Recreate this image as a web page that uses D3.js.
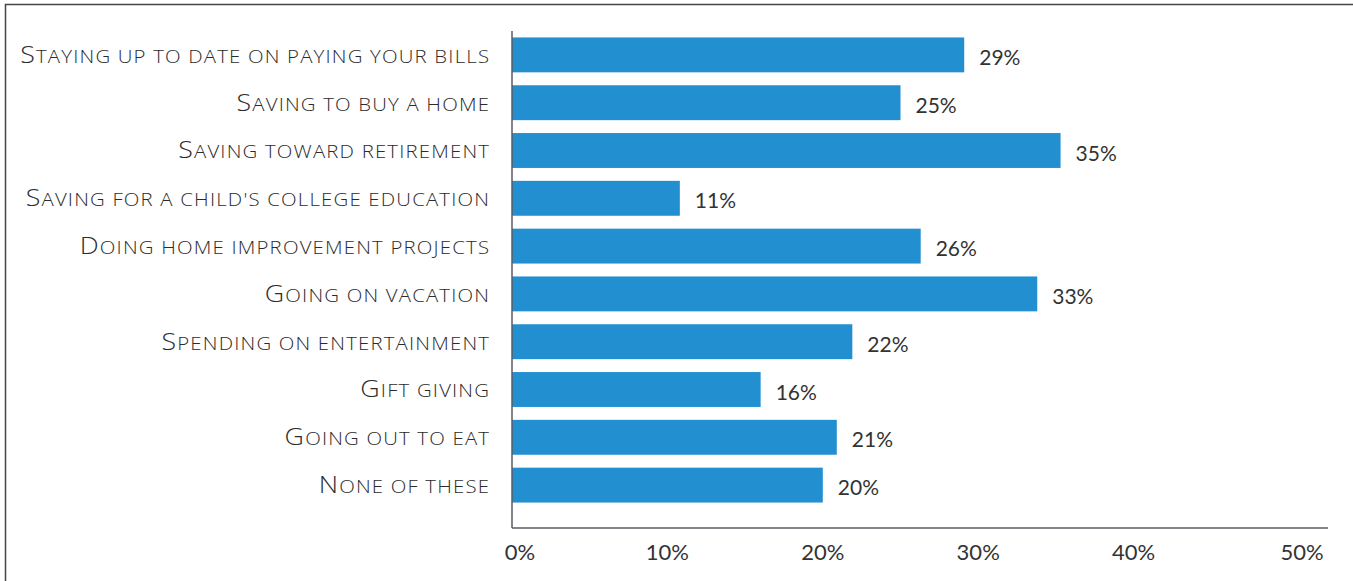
<!DOCTYPE html>
<meta charset="utf-8">
<head>
<script src="https://d3js.org/d3.v7.min.js"></script>
<style>
  body { margin: 0; background: #fff; }
  svg text { font-family: Lato, "Open Sans", sans-serif; fill: #2b2b2b; }
  svg text.cat { font-family: "Open Sans", Lato, sans-serif; letter-spacing: 1px; }
</style>
</head>
<body>
<svg id="chart" width="1353" height="581"></svg>
<script>

// data
var categories = [
  "Staying up to date on paying your bills",
  "Saving to buy a home",
  "Saving toward retirement",
  "Saving for a child's college education",
  "Doing home improvement projects",
  "Going on vacation",
  "Spending on entertainment",
  "Gift giving",
  "Going out to eat",
  "None of these"
];
// bar lengths as measured, printed labels as shown
var values = [29.1, 25.0, 35.3, 10.8, 26.3, 33.8, 21.9, 16.0, 20.9, 20.0];
var valueLabels = ["29%", "25%", "35%", "11%", "26%", "33%", "22%", "16%", "21%", "20%"];
var tickValues = [0, 10, 20, 30, 40, 50];

var BAR_COLOR = "#228fd0";
var AXIS_COLOR = "#5a5d63";
var NUM_COLOR = "#333";
var LABEL_RIGHT = 489;
var LABEL_LEFT_FIRST = 20;   // where the first category label starts

var svg = d3.select("#chart");

// frame
svg.append("rect")
    .attr("x", 5.5).attr("y", 4.5)
    .attr("width", 1400).attr("height", 700)
    .attr("fill", "none")
    .attr("stroke", "#444")
    .attr("stroke-width", 1.5);

var x = d3.scaleLinear()
    .domain([0, 50])
    .range([512, 1289]);

var y = d3.scaleBand()
    .domain(categories)
    .range([31, 509])
    .paddingInner(0.27)
    .paddingOuter(0.135);

var axisBottom = 528;

// bars
svg.append("g")
  .selectAll("rect")
  .data(values)
  .enter()
  .append("rect")
    .attr("x", x(0))
    .attr("y", (d, i) => y(categories[i]))
    .attr("width", d => x(d) - x(0))
    .attr("height", y.bandwidth())
    .attr("fill", BAR_COLOR);

// value labels
svg.append("g")
  .selectAll("text")
  .data(values)
  .enter()
  .append("text")
    .attr("x", d => x(d) + 15)
    .attr("y", (d, i) => y(categories[i]) + y.bandwidth() / 2 + 10)
    .attr("font-size", 21)
    .style("fill", NUM_COLOR)
    .text((d, i) => valueLabels[i]);

// split a label in runs of capitals / small capitals
function smallCapRuns(s) {
  var runs = [];
  for (var c of s) {
    var big = c !== c.toLowerCase();
    var last = runs[runs.length - 1];
    if (last && last.big === big) last.t += c.toUpperCase();
    else runs.push({big: big, t: c.toUpperCase()});
  }
  return runs;
}

// category labels, small caps drawn by hand, in a group we can stretch
var catG = svg.append("g");

var catLabels = catG
  .selectAll("text")
  .data(categories)
  .enter()
  .append("text")
    .attr("class", "cat")
    .attr("x", 0)
    .attr("y", d => y(d) + y.bandwidth() / 2 + 8)
    .attr("text-anchor", "end")
    .attr("font-weight", 300);

catLabels.selectAll("tspan")
  .data(d => smallCapRuns(d))
  .enter()
  .append("tspan")
    .attr("font-size", r => r.big ? 23 : 17.5)
    .text(r => r.t);

// the reference face is wider: stretch so the first label spans the same width
var natural = catLabels.node().getComputedTextLength() - 1;
var stretch = (LABEL_RIGHT - LABEL_LEFT_FIRST) / natural;
catLabels.attr("x", 1);
catG.attr("transform", "translate(" + LABEL_RIGHT + ",0) scale(" + stretch + ",1)");

// axes lines
svg.append("line")
    .attr("x1", x(0)).attr("x2", x(0))
    .attr("y1", 31).attr("y2", axisBottom)
    .attr("stroke", AXIS_COLOR).attr("stroke-width", 1.5);

svg.append("line")
    .attr("x1", x(0)).attr("x2", 1328)
    .attr("y1", axisBottom).attr("y2", axisBottom)
    .attr("stroke", AXIS_COLOR).attr("stroke-width", 1.5);

// tick labels (ends pulled inside the axis)
svg.append("g")
  .selectAll("text")
  .data(tickValues)
  .enter()
  .append("text")
    .attr("x", (d, i) => x(d) + (i == 0 ? 8 : i == tickValues.length - 1 ? 13 : 0))
    .attr("y", 560)
    .attr("text-anchor", "middle")
    .attr("font-size", 22)
    .style("fill", NUM_COLOR)
    .text(d => d + "%");

</script>
</body>
</html>
